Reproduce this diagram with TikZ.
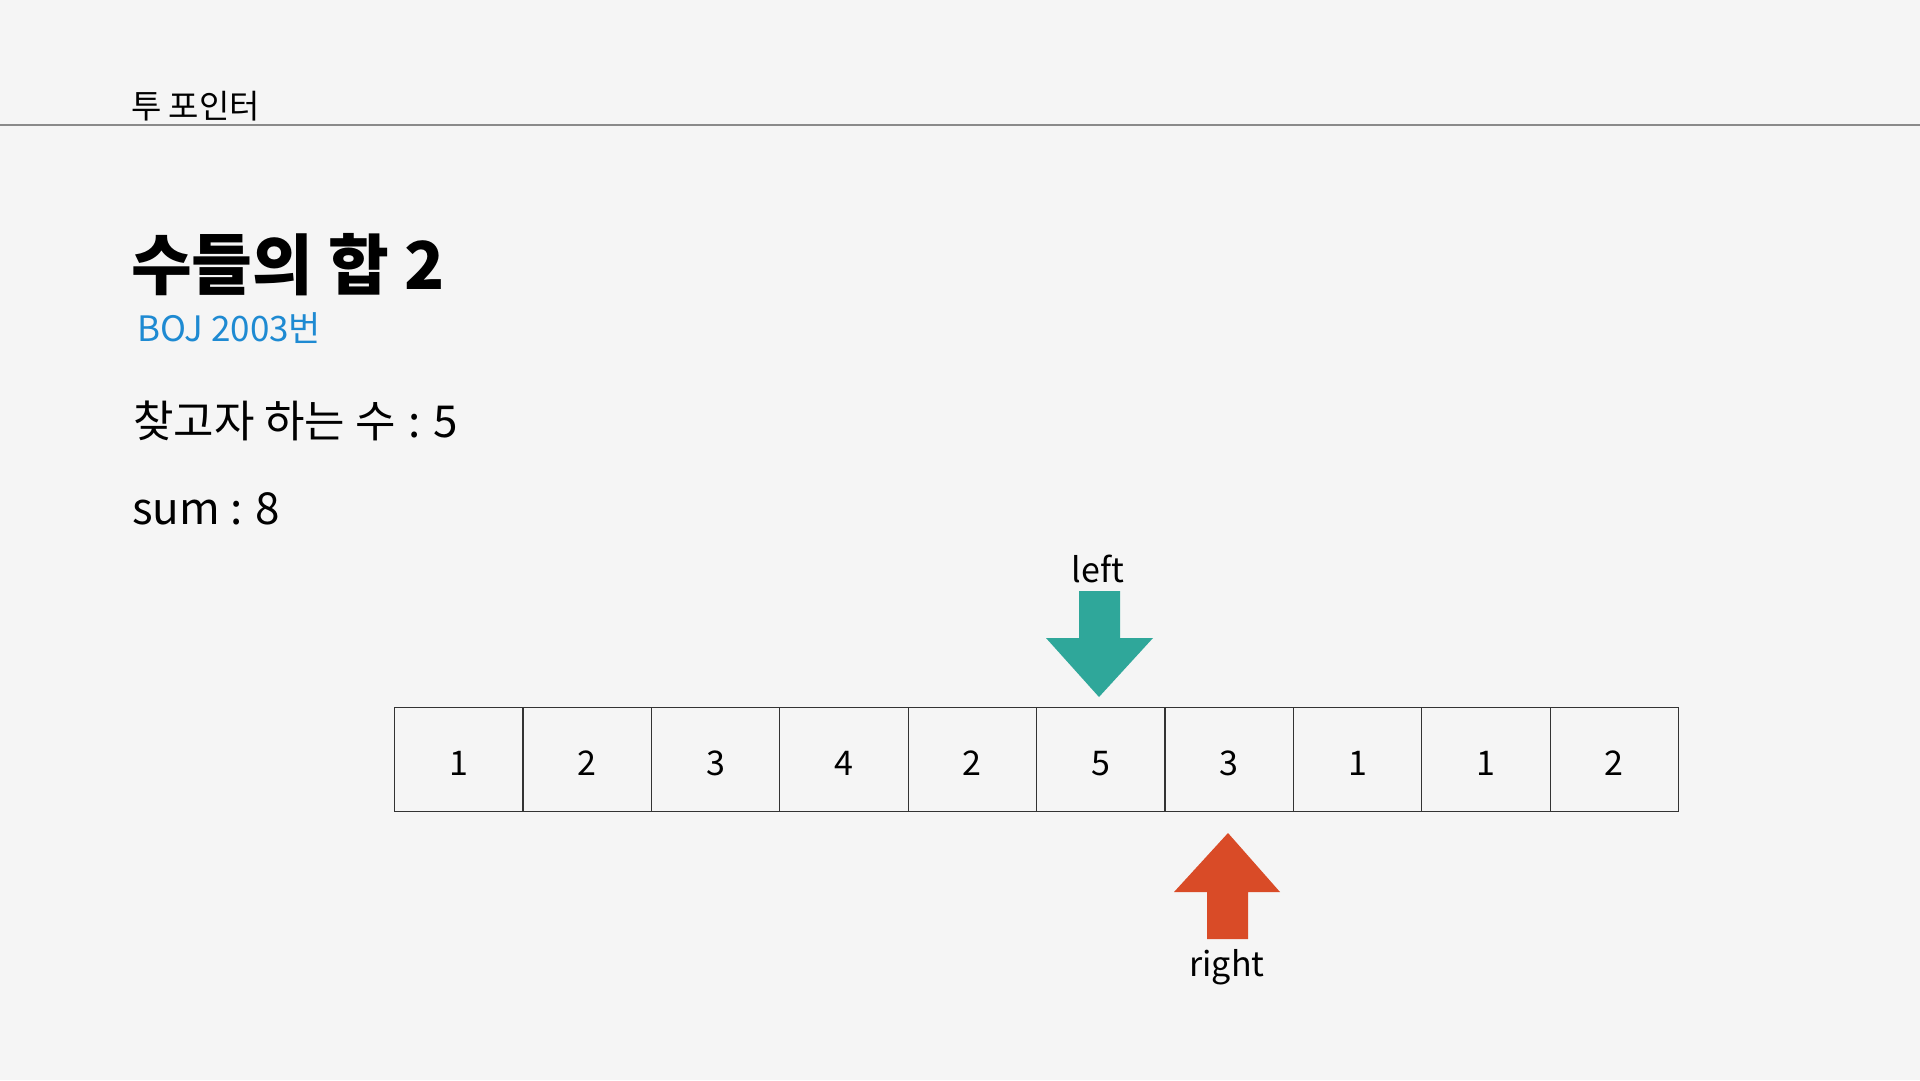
\documentclass[tikz,border=0pt]{standalone}
\usepackage{fontspec}
\setmainfont{Noto Sans CJK KR}
\definecolor{slidebg}{HTML}{F5F5F5}
\definecolor{rulegray}{HTML}{8A8A8A}
\definecolor{bojblue}{HTML}{1E8AD2}
\definecolor{leftteal}{HTML}{2FA79A}
\definecolor{rightred}{HTML}{D94B27}
\tikzset{
  cellbox/.style={draw=black!80,line width=1.2pt,minimum width=128.4pt,minimum height=104pt,inner sep=0pt,anchor=north west,
    text height=33pt,text depth=0pt,font=\fontsize{34}{40}\selectfont},
  ptrlabel/.style={anchor=base,inner sep=0pt,font=\fontsize{34}{40}\selectfont}
}
\begin{document}
\begin{tikzpicture}
  [x=1pt,y=-1pt]
  \fill[slidebg] (0,0) rectangle (1920,1080);
  \useasboundingbox (0,0) rectangle (1920,1080);
  \draw[rulegray,line width=2.6pt] (0,125) -- (1920,125);
  \node[anchor=base west,inner sep=0pt,font=\fontsize{33}{38}\selectfont] (section) at (131,118) {투 포인터};
  \node[anchor=base west,inner sep=0pt,font=\fontsize{66}{78}\selectfont\bfseries] (title) at (131,289) {수들의 합 2};
  \node[anchor=base west,inner sep=0pt,text=bojblue,font=\fontsize{35}{42}\selectfont] (boj) at (137,341) {BOJ 2003번};
  \node[anchor=base west,inner sep=0pt,font=\fontsize{44}{52}\selectfont] (target) at (133,437) {찾고자 하는 수\hspace{13pt}:\hspace{13pt}5};
  \node[anchor=base west,inner sep=0pt,font=\fontsize{44}{52}\selectfont] (sum) at (132,524) {sum : 8};
  \foreach \v [count=\i from 0] in {1,2,3,4,2,5,3,1,1,2}
    \node[cellbox] (c\i) at (394+128.4*\i,706.5) {\v};
  \fill[leftteal] (1079,591) -- (1120,591) -- (1120,638) -- (1153,638) -- (1099,697)
    -- (1046,638) -- (1079,638) -- cycle;
  \fill[rightred] (1207,939) -- (1248,939) -- (1248,892) -- (1280,892) -- (1228,833)
    -- (1174,892) -- (1207,892) -- cycle;
  \node[ptrlabel] (leftlbl) at (1098,582) {left};
  \node[ptrlabel] (rightlbl) at (1227,976) {right};
\end{tikzpicture}
\end{document}
